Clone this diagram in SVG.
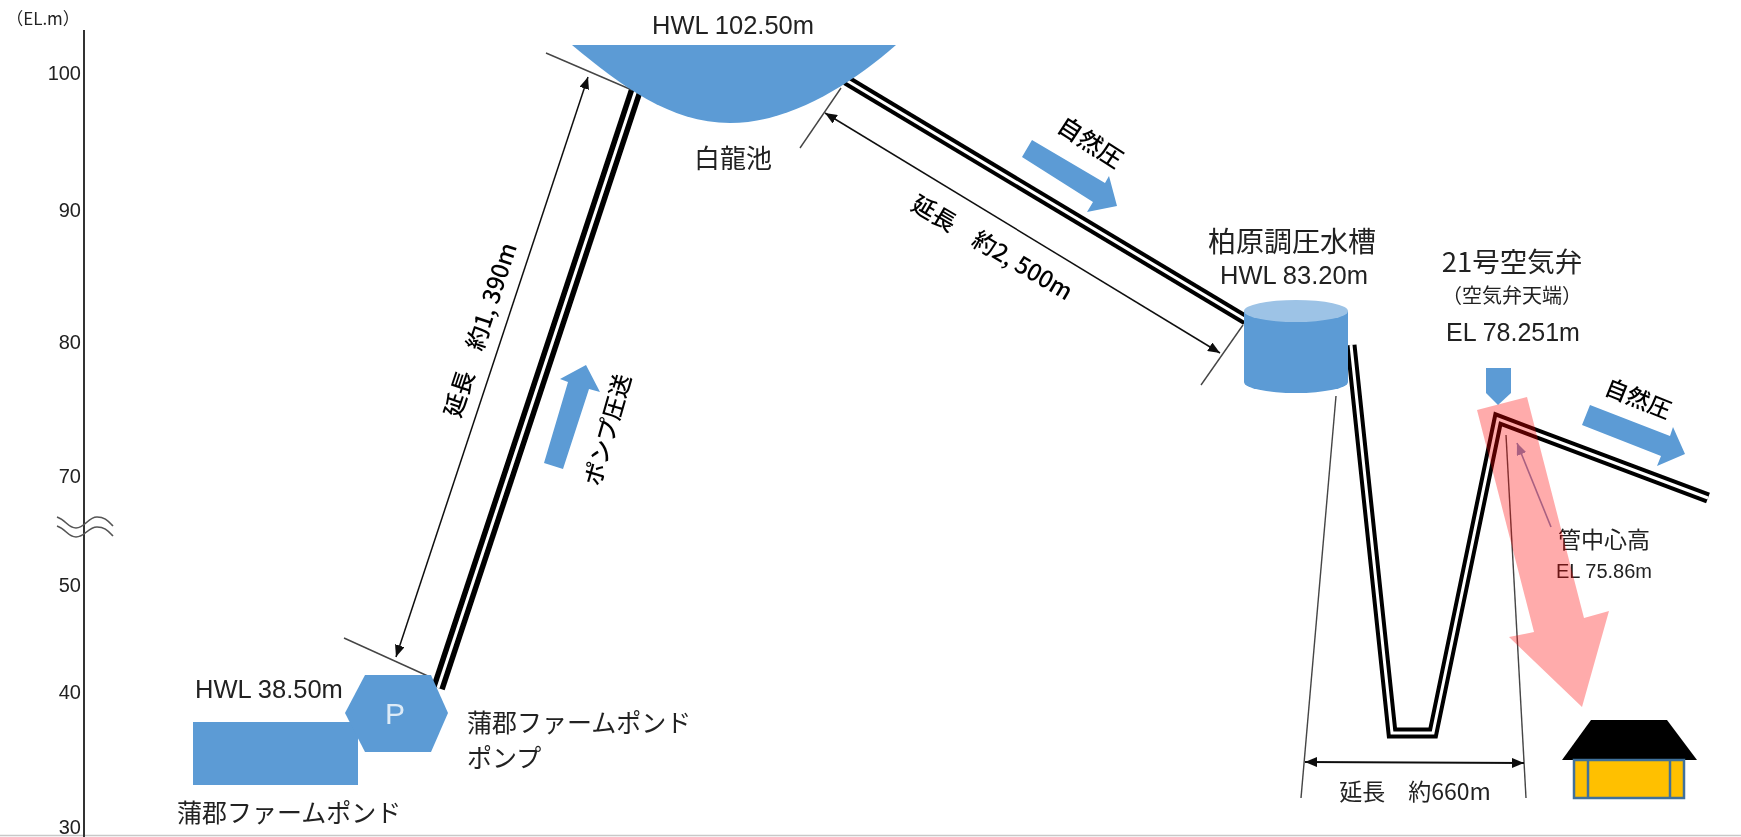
<svg xmlns="http://www.w3.org/2000/svg" width="1741" height="837" viewBox="0 0 1741 837">
<style>
text{font-family:"Liberation Sans","Noto Sans CJK JP",sans-serif;fill:#222}
.j{font-family:"Noto Sans CJK JP","Liberation Sans",sans-serif}
.r{fill:#000;font-weight:500}
.m{text-anchor:middle}
.e{text-anchor:end}
.b{fill:#5B9BD5}
.po{fill:none;stroke:#000;stroke-width:11;stroke-linejoin:miter}
.pi{fill:none;stroke:#fff;stroke-width:3;stroke-linejoin:miter}
.t{fill:none;stroke:#444;stroke-width:1.4}
.d{fill:none;stroke:#111;stroke-width:1.5;marker-start:url(#a);marker-end:url(#a)}
.w{fill:none;stroke:#555;stroke-width:1.6}
</style>
<defs>
<marker id="a" viewBox="0 0 12 10" refX="12" refY="5" markerWidth="12" markerHeight="10" markerUnits="userSpaceOnUse" orient="auto-start-reverse"><path d="M0 0L12 5L0 10Z" fill="#111"/></marker>
<marker id="p" viewBox="0 0 12 10" refX="12" refY="5" markerWidth="12" markerHeight="10" markerUnits="userSpaceOnUse" orient="auto"><path d="M0 0L12 5L0 10Z" fill="#7F8FC0"/></marker>
<filter id="s" x="0" y="0" width="100%" height="100%"><feGaussianBlur stdDeviation="0.45"/></filter>
</defs>
<g filter="url(#s)">
<rect width="1741" height="837" fill="#fff"/>
<g id="axis">
<line x1="0" y1="835.5" x2="1741" y2="835.5" stroke="#c8c8c8" stroke-width="1.6"/>
<line x1="84" y1="30" x2="84" y2="837" stroke="#333" stroke-width="2"/>
<path class="w" d="M57 517C66 520 68 528 76 528C85 528 88 517 97 517C105 517 108 521 113 526"/>
<path class="w" d="M57 526C66 529 68 537 76 537C85 537 88 527 97 527C105 527 108 531 113 536"/>
<text class="j m" x="43" y="25" font-size="17" fill="#444">（EL.m）</text>
<text class="e" x="81" y="80" font-size="20">100</text>
<text class="e" x="81" y="217" font-size="20">90</text>
<text class="e" x="81" y="349" font-size="20">80</text>
<text class="e" x="81" y="483" font-size="20">70</text>
<text class="e" x="81" y="592" font-size="20">50</text>
<text class="e" x="81" y="699" font-size="20">40</text>
<text class="e" x="81" y="834" font-size="20">30</text>
</g>
<g id="connectors">
<polyline class="po" style="stroke-width:14" points="636,90 438,688"/><polyline class="pi" points="636,90 438,688"/>
<polyline class="po" points="846,80 1246,320"/><polyline class="pi" points="846,80 1246,320"/>
<polyline class="po" points="1351,345 1392,733 1433,733 1498,419 1708,498"/><polyline class="pi" points="1351,345 1392,733 1433,733 1498,419 1708,498"/>
<line class="t" x1="546" y1="53" x2="632" y2="90"/>
<line class="t" x1="344" y1="638" x2="430" y2="677"/>
<line class="t" x1="841" y1="88" x2="800" y2="148"/>
<line class="t" x1="1243" y1="325" x2="1201" y2="385"/>
<line class="t" x1="1336" y1="396" x2="1301" y2="798"/>
<line class="t" x1="1506" y1="435" x2="1526" y2="798"/>
<line class="d" x1="588" y1="77" x2="396" y2="657"/>
<line class="d" x1="825" y1="113" x2="1220" y2="353"/>
<line class="d" x1="1305" y1="762" x2="1524" y2="763" style="stroke-width:2"/>
<line x1="1551" y1="527" x2="1517" y2="443" stroke="#7F8FC0" stroke-width="1.6" marker-end="url(#p)"/>
</g>
<g id="hakuryu-pond">
<path class="b" d="M572 45H896C850 85 790 123 730 123C670 123 620 85 572 45Z"/>
<text x="652" y="34" font-size="25.5">HWL 102.50m</text>
<text class="j m" x="733" y="168" font-size="26">白龍池</text>
</g>
<g id="gamagori-pond">
<rect class="b" x="193" y="722" width="165" height="63"/>
<text x="195" y="698" font-size="25.5">HWL 38.50m</text>
<text class="j" x="177" y="822" font-size="25">蒲郡ファームポンド</text>
</g>
<g id="pump">
<polygon class="b" points="345,713 365,675 431,675 448,713 431,752 365,752"/>
<text class="m" x="395" y="724" font-size="30" style="fill:#DDEBF7">P</text>
<text class="j" x="467" y="732" font-size="25">蒲郡ファームポンド</text>
<text class="j" x="467" y="767" font-size="25">ポンプ</text>
</g>
<g id="kashiwabara-tank">
<path class="b" d="M1244 311V382A52 11 0 0 0 1348 382V311Z"/>
<ellipse cx="1296" cy="311" rx="52" ry="11" fill="#9DC3E6"/>
<text class="j m" x="1292" y="252" font-size="28">柏原調圧水槽</text>
<text class="m" x="1294" y="284" font-size="25.5">HWL 83.20m</text>
</g>
<g id="air-valve">
<polygon class="b" points="1486,368 1511,368 1511,393 1498,405 1486,393"/>
<text class="j m" x="1512" y="272" font-size="27.5">21号空気弁</text>
<text class="j m" x="1512" y="303" font-size="20">（空気弁天端）</text>
<text class="m" x="1513" y="341" font-size="25">EL 78.251m</text>
</g>
<g id="flow-labels">
<polygon class="b" points="1032,140 1105,183 1109,176 1117,206 1087,212 1093,202 1022,157"/>
<text class="j m r" transform="translate(1090 143) rotate(33)" y="8" font-size="24">自然圧</text>
<polygon class="b" points="1590,405 1670,436 1673,427 1685,454 1657,466 1661,456 1582,425"/>
<text class="j m r" transform="translate(1638 399) rotate(22)" y="8" font-size="23">自然圧</text>
<polygon class="b" points="544,463 563,469 589,389 600,392 586,365 560,379 568,382"/>
<text class="j m r" transform="translate(608 430) rotate(-74)" y="8" font-size="23">ポンプ圧送</text>
<text class="j m r" transform="translate(481 330) rotate(-71.6)" y="8" font-size="23.5">延長　約1, 390m</text>
<text class="j m r" transform="translate(992 248) rotate(30.4)" y="8" font-size="23.5">延長　約2, 500m</text>
<text class="j m" x="1415" y="800" font-size="23">延長　約660m</text>
<text class="j m" x="1604" y="548" font-size="23">管中心高</text>
<text class="m" x="1604" y="578" font-size="20">EL 75.86m</text>
</g>
<g id="house">
<polygon points="1562,760 1591,720 1667,720 1697,760" fill="#000"/>
<rect x="1574" y="760" width="110" height="38" fill="#FFC000" stroke="#41719C" stroke-width="2.5"/>
<line x1="1588" y1="760" x2="1588" y2="798" stroke="#41719C" stroke-width="2.5"/>
<line x1="1670" y1="760" x2="1670" y2="798" stroke="#41719C" stroke-width="2.5"/>
</g>
<g id="leak-arrow">
<polygon points="1477,410 1527,397 1584,618 1609,611 1582,707 1509,637 1534,632" fill="#f00" fill-opacity="0.33"/>
</g>
</g>
</svg>
